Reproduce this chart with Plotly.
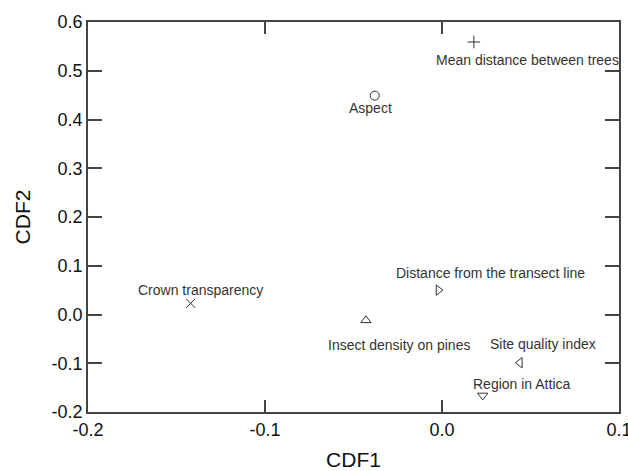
import plotly.graph_objects as go

variables = ["Mean distance between trees", "Aspect", "Crown transparency",
             "Distance from the transect line", "Insect density on pines",
             "Site quality index", "Region in Attica"]
cdf1 = [0.018, -0.038, -0.142, -0.002, -0.043, 0.044, 0.023]
cdf2 = [0.559, 0.449, 0.023, 0.050, -0.012, -0.099, -0.166]
symbols = ["cross-thin-open", "circle-open", "x-thin-open", "triangle-right-open",
           "triangle-up-open", "triangle-left-open", "triangle-down-open"]
# label offsets in pixels (style only)
label_dx = [54, -4, 10, 52, 33, 23, 39]
label_dy = [-18, -12, 13, 17, -25, 19, 11]

x_ticks = [-0.2, -0.1, 0.0, 0.1]
x_ticktext = ["-0.2", "-0.1", "0.0", "0.1"]
y_ticks = [-0.2, -0.1, 0.0, 0.1, 0.2, 0.3, 0.4, 0.5, 0.6]
y_ticktext = ["-0.2", "-0.1", "0.0", "0.1", "0.2", "0.3", "0.4", "0.5", "0.6"]

FONT = "Arial, Liberation Sans, sans-serif"

fig = go.Figure()
fig.add_trace(go.Scatter(
    x=cdf1, y=cdf2, mode="markers",
    marker=dict(symbol=symbols, size=9, color="#333333",
                line=dict(color="#333333", width=1)),
    hoverinfo="text", text=variables, showlegend=False))

for name, x, y, dx, dy in zip(variables, cdf1, cdf2, label_dx, label_dy):
    fig.add_annotation(x=x, y=y, text=name, showarrow=False,
                       xshift=dx, yshift=dy, xanchor="center", yanchor="middle",
                       font=dict(family=FONT, size=14, color="#333333"))

axis_common = dict(showgrid=False, zeroline=False, showline=True, automargin=False,
                   linecolor="#444444", linewidth=1.5, mirror="ticks",
                   ticks="inside", tickcolor="#444444", tickwidth=1.5,
                   ticklabeloverflow="allow",
                   tickfont=dict(family=FONT, size=18, color="#111111"))

fig.update_xaxes(range=[-0.2, 0.100001], tickvals=x_ticks, ticktext=x_ticktext, ticklen=12,
                 ticklabelstandoff=1,
                 title=dict(text="CDF1", font=dict(family=FONT, size=21, color="#111111"),
                            standoff=18),
                 **axis_common)
fig.update_yaxes(range=[-0.2, 0.600001], tickvals=y_ticks, ticktext=y_ticktext, ticklen=14,
                 title=dict(text="CDF2", font=dict(family=FONT, size=21, color="#111111"),
                            standoff=15),
                 **axis_common)

fig.update_layout(width=628, height=471,
                  margin=dict(l=88, r=9, t=22, b=59),
                  paper_bgcolor="white", plot_bgcolor="white")

fig.write_html("out.html")
